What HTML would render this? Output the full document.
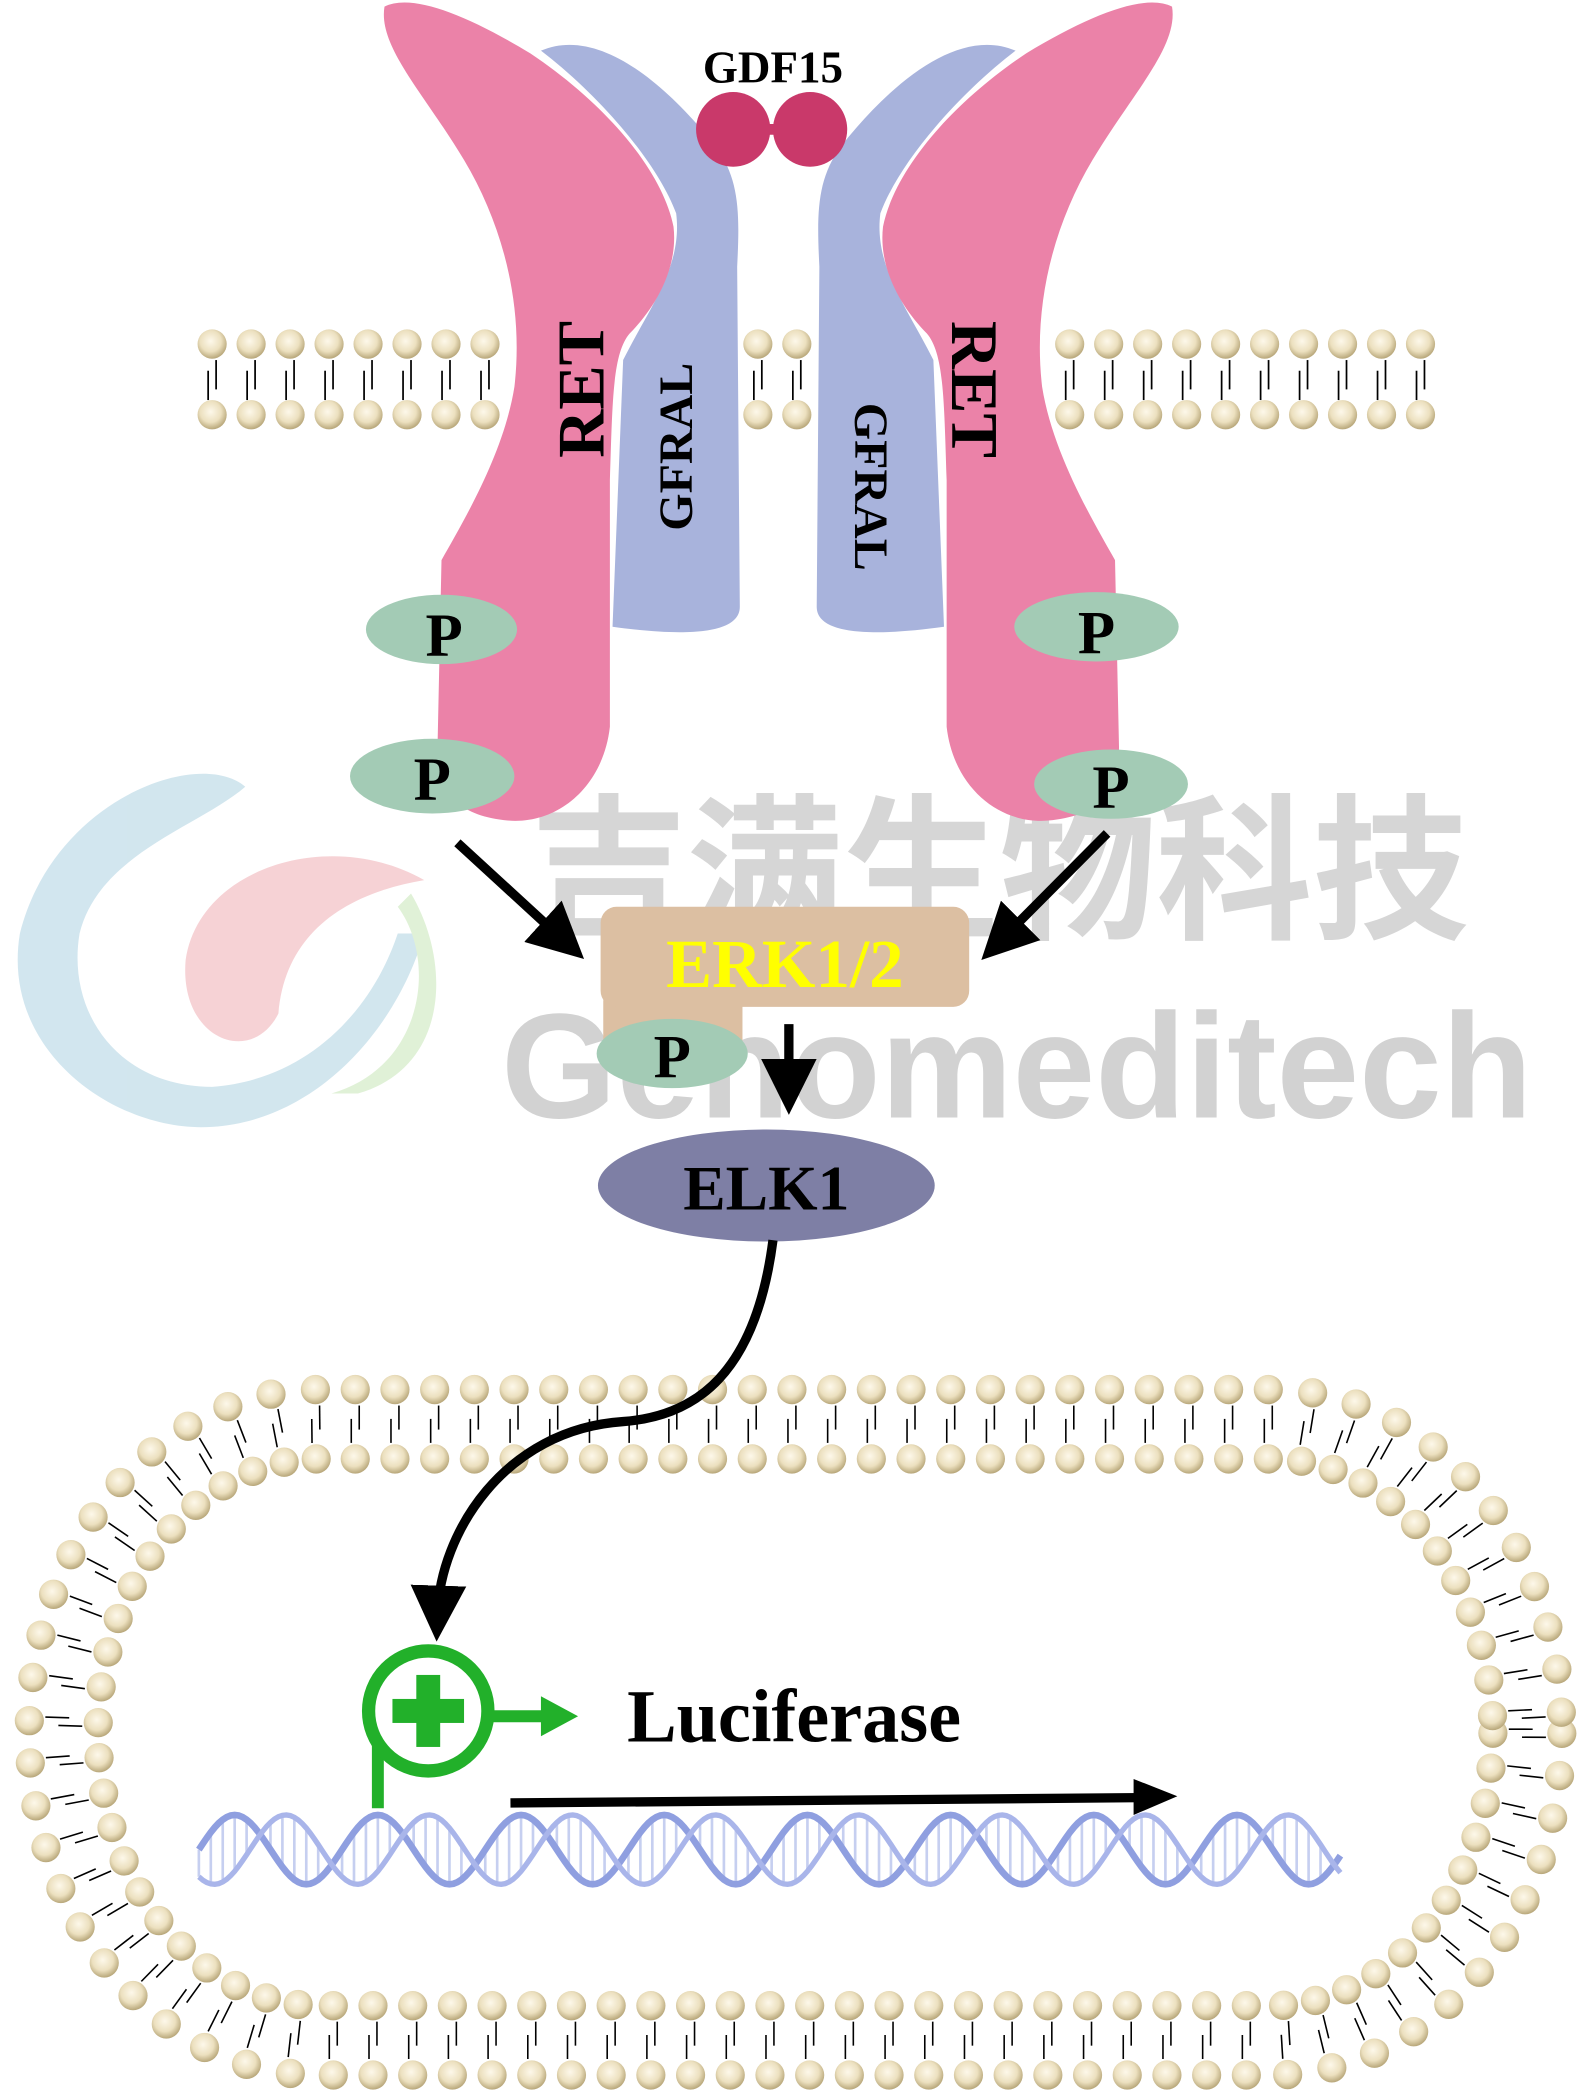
<!DOCTYPE html>
<html><head><meta charset="utf-8"><style>
html,body{margin:0;padding:0;background:#fff;width:1591px;height:2091px;overflow:hidden}
svg{display:block}
</style></head><body>
<svg id="s" width="1591" height="2091" viewBox="0 0 1200 1568" preserveAspectRatio="none" xmlns="http://www.w3.org/2000/svg">
<defs>
<radialGradient id="hg" cx="0.45" cy="0.4" r="0.6"><stop offset="0" stop-color="#fdf8ea"/><stop offset="0.6" stop-color="#ece0bf"/><stop offset="1" stop-color="#b8a77a"/></radialGradient>
<marker id="ah" markerWidth="6" markerHeight="6" refX="3" refY="3" orient="auto" markerUnits="strokeWidth"><path d="M0,0 L6,3 L0,6 Z" fill="#000"/></marker>
</defs>
<g opacity="0.35">
<path d="M185,590 C150,560 40,600 15,700 C0,790 90,850 160,845 C240,840 300,770 320,700 L300,700 C280,760 230,810 160,815 C90,815 50,760 60,700 C75,640 150,620 185,590 Z" fill="#7fb8d0"/>
<path d="M320,660 C250,620 150,650 140,720 C135,780 190,800 210,760 C215,700 260,670 320,660 Z" fill="#e8808a"/>
<path d="M300,680 C330,720 320,800 250,820 L270,820 C340,800 340,720 310,670 Z" fill="#a8d890"/>
</g>
<text x="400" y="695" font-family="'Liberation Sans','Noto Sans CJK SC',sans-serif" font-size="118" font-weight="bold" fill="#d6d6d6">吉满生物科技</text>
<text x="378" y="838" font-family="'Liberation Sans',sans-serif" font-size="112" font-weight="bold" fill="#d2d2d2">Genomeditech</text>
<g id="mem"></g>
<g id="rec">
<path d="M408,38 C450,20 500,60 540,110 C558,135 558,160 556,200 L558,455 C558,475 520,478 462,470 L470,270 C490,230 515,200 510,160 C495,120 450,70 408,38 Z" fill="#a8b3dc"/>
<path d="M290,5 C310,-5 350,10 400,40 C460,80 500,130 508,170 C512,205 490,235 475,250 C462,265 462,300 460,360 L460,545 C455,590 420,620 380,615 C340,610 330,590 330,560 L333,420 C350,390 380,340 388,290 C395,230 380,170 350,120 C320,70 285,35 290,5 Z" fill="#eb82a8"/>
</g>
<use href="#rec" transform="translate(1174,0) scale(-1,1)"/>
<g font-family="'Liberation Serif',serif" font-weight="bold" fill="#000">
<text transform="translate(455,292) rotate(-90)" text-anchor="middle" font-size="50">RET</text>
<text transform="translate(522,335) rotate(-90)" text-anchor="middle" font-size="36">GFRAL</text>
<text transform="translate(718,292) rotate(90)" text-anchor="middle" font-size="50">RET</text>
<text transform="translate(645,365) rotate(90)" text-anchor="middle" font-size="36">GFRAL</text>
</g>
<line x1="553" y1="97" x2="610" y2="97" stroke="#c9396a" stroke-width="8"/>
<circle cx="553" cy="97" r="28" fill="#c9396a"/><circle cx="611" cy="97" r="28" fill="#c9396a"/>
<text x="583" y="62" text-anchor="middle" font-family="'Liberation Serif',serif" font-weight="bold" font-size="34">GDF15</text>
<g font-family="'Liberation Serif',serif" font-weight="bold" font-size="46" text-anchor="middle">
<ellipse cx="333" cy="472" rx="57" ry="26" fill="#a3cbb5"/><text x="335" y="492">P</text>
<ellipse cx="326" cy="582" rx="62" ry="28" fill="#a3cbb5"/><text x="326" y="600">P</text>
<ellipse cx="827" cy="470" rx="62" ry="26" fill="#a3cbb5"/><text x="827" y="490">P</text>
<ellipse cx="838" cy="588" rx="58" ry="26" fill="#a3cbb5"/><text x="838" y="606">P</text>
</g>
<line x1="345" y1="632" x2="425" y2="705" stroke="#000" stroke-width="7" marker-end="url(#ah)"/>
<line x1="835" y1="625" x2="755" y2="705" stroke="#000" stroke-width="7" marker-end="url(#ah)"/>
<rect x="455" y="750" width="105" height="40" fill="#dcbfa2"/>
<rect x="453" y="680" width="278" height="75" rx="12" fill="#dcbfa2"/>
<text x="592" y="740" text-anchor="middle" font-family="'Liberation Serif',serif" font-weight="bold" font-size="52" fill="#ffff00">ERK1/2</text>
<ellipse cx="507" cy="790" rx="57" ry="26" fill="#a3cbb5"/>
<text x="507" y="808" text-anchor="middle" font-family="'Liberation Serif',serif" font-weight="bold" font-size="46">P</text>
<line x1="595" y1="768" x2="595" y2="815" stroke="#000" stroke-width="7" marker-end="url(#ah)"/>
<ellipse cx="578" cy="889" rx="127" ry="42" fill="#7e7fa5"/>
<text x="578" y="907" text-anchor="middle" font-family="'Liberation Serif',serif" font-weight="bold" font-size="48">ELK1</text>
<g id="nuc"></g>
<path d="M583,930 C570,1030 525,1062 470,1066 C380,1072 332,1150 330,1210" fill="none" stroke="#000" stroke-width="7" marker-end="url(#ah)"/>
<g id="dna"></g>
<line x1="285" y1="1300" x2="285" y2="1356" stroke="#22b02a" stroke-width="9"/>
<circle cx="323" cy="1283" r="45" fill="#fff" stroke="#22b02a" stroke-width="10"/>
<rect x="296" y="1274" width="54" height="18" fill="#22b02a"/><rect x="314" y="1256" width="18" height="54" fill="#22b02a"/>
<line x1="370" y1="1287" x2="412" y2="1287" stroke="#22b02a" stroke-width="9"/>
<path d="M408,1272 L436,1287 L408,1302 Z" fill="#22b02a"/>
<text x="473" y="1306" font-family="'Liberation Serif',serif" font-weight="bold" font-size="56">Luciferase</text>
<line x1="385" y1="1352" x2="860" y2="1348" stroke="#000" stroke-width="7"/>
<path d="M855,1334 L888,1347 L855,1361 Z" fill="#000"/>
</svg>
<script>
var NS="http://www.w3.org/2000/svg";
function el(p,t,a){var e=document.createElementNS(NS,t);for(var k in a)e.setAttribute(k,a[k]);p.appendChild(e);return e;}
var mem=document.getElementById('mem');
for(var i=0;i<32;i++){var x=160+i*29.4;
 if(x>380&&x<560)continue; if(x>610&&x<790)continue;
 el(mem,'line',{x1:x+3,y1:270,x2:x+3,y2:292,stroke:'#000','stroke-width':1.3});
 el(mem,'line',{x1:x-3,y1:278,x2:x-3,y2:300,stroke:'#000','stroke-width':1.3});
 el(mem,'circle',{cx:x,cy:258,r:11,fill:'url(#hg)'});
 el(mem,'circle',{cx:x,cy:311,r:11,fill:'url(#hg)'});
}
var nuc=document.getElementById('nuc');
var cx=600,cy=1299,L=360,RX=192,RY=231;
var N=2000;var curve=[];
for(var i=0;i<N;i++){var a=i/N*2*Math.PI;var c=Math.cos(a),s=Math.sin(a);curve.push([RX*c,RY*s,c/RX,s/RY]);}
var path=[];
for(var i=0;i<N;i++){var p=curve[i];var a=i/N*2*Math.PI;var c=Math.cos(a);path.push([p[0]+(c>=0?L:-L)+cx,p[1]+cy,p[2],p[3]]);}
var dense=[];
for(var i=0;i<N;i++){var a=path[i],b=path[(i+1)%N];
 var d=Math.hypot(b[0]-a[0],b[1]-a[1]);var k=Math.max(1,Math.ceil(d/2));
 for(var j=0;j<k;j++){var f=j/k;dense.push([a[0]+(b[0]-a[0])*f,a[1]+(b[1]-a[1])*f,d>5?0:a[2],d>5?(a[3]>0?1:-1):a[3]]);}}
var acc=29,step=29,places=[];
for(var i=1;i<dense.length;i++){var a=dense[i-1],b=dense[i];acc+=Math.hypot(b[0]-a[0],b[1]-a[1]);
 if(acc>=step){acc=0;var n=Math.hypot(b[2],b[3]);places.push([b[0],b[1],b[2]/n,b[3]/n]);}}
places.forEach(function(p){
 var ox=p[0]+p[2]*26,oy=p[1]+p[3]*26,ix=p[0]-p[2]*26,iy=p[1]-p[3]*26;
 var tx=-p[3]*3,ty=p[2]*3;
 el(nuc,'line',{x1:ox-p[2]*12+tx,y1:oy-p[3]*12+ty,x2:p[0]-p[2]*4+tx,y2:p[1]-p[3]*4+ty,stroke:'#000','stroke-width':1.2});
 el(nuc,'line',{x1:ix+p[2]*12-tx,y1:iy+p[3]*12-ty,x2:p[0]+p[2]*4-tx,y2:p[1]+p[3]*4-ty,stroke:'#000','stroke-width':1.2});
 el(nuc,'circle',{cx:ox,cy:oy,r:11,fill:'url(#hg)'});
 el(nuc,'circle',{cx:ix,cy:iy,r:11,fill:'url(#hg)'});
});
var dna=document.getElementById('dna');
var d1='',d2='';
for(var x=150;x<=1012;x+=3){var ph=(x-150)/108*2*Math.PI;var y1=1387-26*Math.sin(ph),y2=1387+26*Math.sin(ph+0.9);
 d1+=(x==150?'M':'L')+x+','+y1.toFixed(1);d2+=(x==150?'M':'L')+x+','+y2.toFixed(1);
 if((x-150)%9==0)el(dna,'line',{x1:x,y1:y1,x2:x,y2:y2,stroke:'#c6cff0','stroke-width':2});}
el(dna,'path',{d:d1,fill:'none',stroke:'#8f9fe0','stroke-width':5});
el(dna,'path',{d:d2,fill:'none',stroke:'#a9b5ea','stroke-width':4});
</script>
</body></html>
